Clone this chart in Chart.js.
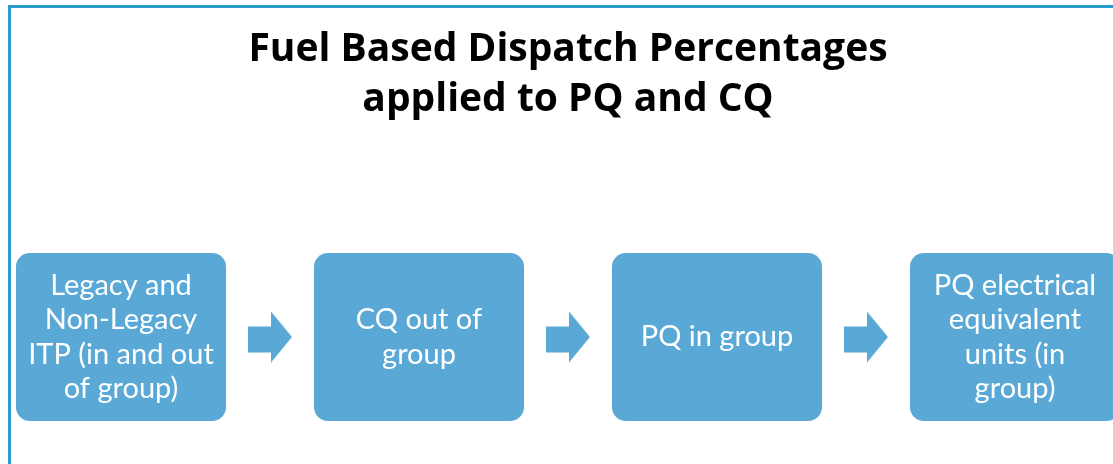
<!DOCTYPE html>
<html>
<head>
<meta charset="utf-8">
<script src="https://cdn.jsdelivr.net/npm/chart.js@4"></script>
<style>
  html, body { margin: 0; padding: 0; background: #fff; }
  #wrap { position: relative; width: 1113px; height: 464px; overflow: hidden; }
  #frame { position: absolute; left: 8px; top: 5px; width: 2000px; height: 1000px;
           border-left: 3px solid #2a9dcb; border-top: 3px solid #2a9dcb; }
  #holder { position: absolute; left: -28px; top: 0; width: 1192px; height: 464px; }
</style>
</head>
<body>
<div id="wrap">
  <div id="frame"></div>
  <div id="holder"><canvas id="flowChart"></canvas></div>
</div>
<script>
// Steps of the flow, left to right (line breaks as on the slide)
const steps = ['Legacy and Non-Legacy ITP', 'CQ out of group', 'PQ in group', 'PQ electrical equivalent units'];
const stepLines = [
  ['Legacy and', 'Non-Legacy', 'ITP (in and out', 'of group)'],
  ['CQ out of', 'group'],
  ['PQ in group'],
  ['PQ electrical', 'equivalent', 'units (in', 'group)']
];
const stepSpan = [0, 1]; // every box fills the band
const titleLines = ['Fuel Based Dispatch Percentages', 'applied to PQ and CQ'];

const boxColor = '#5aa8d6';

// arrows sit between consecutive steps
const arrowData = steps.slice(1).map((s, i) => ({ x: i + 0.5, y: 0.5 }));

// block arrow used as the point style
function makeArrow() {
    const c = document.createElement('canvas');
    c.width = 44;
    c.height = 51;
    const g = c.getContext('2d');
    g.fillStyle = boxColor;
    g.beginPath();
    g.moveTo(0, 15);
    g.lineTo(23, 15);
    g.lineTo(23, 0);
    g.lineTo(44, 25.5);
    g.lineTo(23, 51);
    g.lineTo(23, 41);
    g.lineTo(0, 41);
    g.closePath();
    g.fill();
    return c;
}

// write the step text inside each box
const boxLabels = {
    id: 'boxLabels',
    afterDatasetsDraw(chart) {
        const ctx = chart.ctx;
        const meta = chart.getDatasetMeta(0);
        const lineH = 34.5;
        ctx.save();
        ctx.fillStyle = '#ffffff';
        ctx.font = '29px Lato, "Open Sans", sans-serif';
        ctx.textAlign = 'center';
        ctx.textBaseline = 'middle';
        meta.data.forEach((bar, i) => {
            const lines = stepLines[i];
            const cy = (bar.y + bar.base) / 2;
            const y0 = cy - (lines.length - 1) * lineH / 2;
            lines.forEach((t, j) => ctx.fillText(t, bar.x, y0 + j * lineH));
        });
        ctx.restore();
    }
};

const ctx = document.getElementById('flowChart').getContext('2d');
new Chart(ctx, {
    data: {
        labels: steps,
        datasets: [
            {
                type: 'bar',
                label: 'Steps',
                data: steps.map(() => stepSpan),
                backgroundColor: boxColor,
                borderRadius: 14,
                borderSkipped: false,
                grouped: false,
                categoryPercentage: 1,
                barPercentage: 0.705,
                xAxisID: 'x',
                clip: false
            },
            {
                type: 'scatter',
                label: 'Arrows',
                data: arrowData,
                pointStyle: makeArrow(),
                xAxisID: 'x2',
                clip: false
            }
        ]
    },
    options: {
        responsive: true,
        maintainAspectRatio: false,
        animation: false,
        layout: { autoPadding: false, padding: { top: 0, bottom: 43, left: 0, right: 0 } },
        scales: {
            x: { type: 'category', display: false, offset: true },
            x2: { type: 'linear', display: false, min: -0.5, max: steps.length - 0.5 },
            y: { type: 'linear', display: false, min: 0, max: 1 }
        },
        plugins: {
            legend: { display: false },
            tooltip: { enabled: false },
            title: {
                display: true,
                text: titleLines,
                color: '#000000',
                font: { family: '"Open Sans", Lato, sans-serif', size: 39, weight: 'bold', lineHeight: 50 / 39 },
                padding: { top: 25, bottom: 128 }
            }
        }
    },
    plugins: [boxLabels]
});
</script>
</body>
</html>
